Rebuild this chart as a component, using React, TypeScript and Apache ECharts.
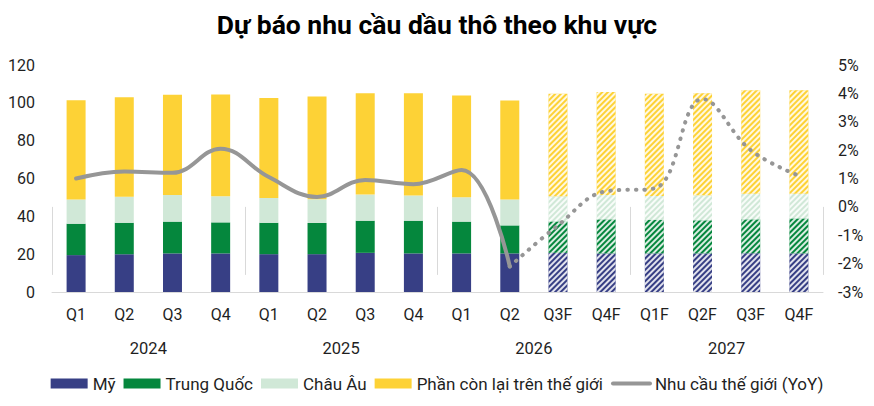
import React, { useEffect, useRef } from "react";
import * as echarts from "echarts";

const quarters = ["Q1", "Q2", "Q3", "Q4", "Q1", "Q2", "Q3", "Q4", "Q1", "Q2", "Q3F", "Q4F", "Q1F", "Q2F", "Q3F", "Q4F"];
const years = ["2024", "2025", "2026", "2027"];
// First index that is a forecast (hatched bars, dotted line)
const forecastStart = 10;

const usa = [19.5, 20.0, 20.4, 20.4, 20.0, 20.0, 20.7, 20.4, 20.4, 20.4, 20.7, 20.4, 20.4, 20.4, 20.5, 20.4];
const china = [16.6, 16.6, 16.8, 16.4, 16.6, 16.5, 17.0, 17.3, 16.8, 14.8, 16.6, 18.0, 17.8, 17.5, 17.9, 18.5];
const europe = [12.8, 13.8, 14.1, 13.8, 13.1, 12.5, 13.8, 13.3, 12.9, 13.7, 13.3, 12.9, 12.6, 13.2, 13.5, 13.0];
const restOfWorld = [52.5, 52.6, 53.0, 53.8, 52.8, 54.4, 53.6, 54.1, 53.8, 52.3, 54.2, 54.4, 54.0, 54.0, 54.8, 54.8];

// World demand growth, % YoY
const yoyActual = [1.0, 1.25, 1.2, 2.05, 1.05, 0.35, 0.95, 0.8, 1.3, -2.1];
const yoyForecast = [-0.65, 0.55, 0.65, 3.8, 2.0, 1.1];

const leftTicks = { min: 0, max: 120, interval: 20 };
const rightTicks = { min: -3, max: 5, interval: 1 };

const COLORS = {
  usa: "#373f85",
  china: "#05873d",
  europe: "#d0e8d7",
  rest: "#fdd236",
  line: "#969696",
};

const FONT = "Roboto, 'Noto Sans', sans-serif";
const TEXT = "#1f1f1f";
const AXIS = "#d9d9d9";

// Forecast bars get diagonal white stripes running top-left to bottom-right
function hatched(values: number[], color: string) {
  return values.map((v, i) =>
    i >= forecastStart
      ? {
          value: v,
          itemStyle: {
            color,
            decal: {
              symbol: "rect",
              symbolSize: 1,
              dashArrayX: [1, 0],
              dashArrayY: [1.5, 1.5],
              rotation: -Math.PI / 4,
              color: "rgba(255,255,255,0.85)",
            },
          },
        }
      : v
  );
}

export default function App() {
  const ref = useRef<HTMLDivElement>(null);

  useEffect(() => {
    document.body.style.margin = "0";
    if (!ref.current) return;
    const chart = echarts.init(ref.current, undefined, { renderer: "svg" });

    const actualLine = quarters.map((_, i) => (i < yoyActual.length ? yoyActual[i] : null));
    const forecastLine = quarters.map((_, i) => {
      if (i === yoyActual.length - 1) return yoyActual[i];
      if (i >= forecastStart) return yoyForecast[i - forecastStart];
      return null;
    });

    const barSeries = (name: string, values: number[], color: string) => ({
      name,
      type: "bar",
      stack: "demand",
      barWidth: 19,
      xAxisIndex: 0,
      yAxisIndex: 0,
      itemStyle: { color },
      data: hatched(values, color),
    });

    chart.setOption({
      animation: false,
      textStyle: { fontFamily: FONT },
      title: {
        text: "Dự báo nhu cầu dầu thô theo khu vực",
        left: "center",
        top: 6,
        textStyle: { fontFamily: FONT, fontSize: 26.5, fontWeight: "bold", color: "#000" },
      },
      grid: { left: 52, right: 51, top: 65, bottom: 114, containLabel: false },
      legend: {
        bottom: 9,
        left: "center",
        itemWidth: 37,
        itemHeight: 10,
        itemGap: 8,
        textStyle: { fontFamily: FONT, fontSize: 17, color: TEXT },
        data: [
          { name: "Mỹ", icon: "rect" },
          { name: "Trung Quốc", icon: "rect" },
          { name: "Châu Âu", icon: "rect" },
          { name: "Phần còn lại trên thế giới", icon: "rect" },
          {
            name: "Nhu cầu thế giới (YoY)",
            itemStyle: { opacity: 0 },
            lineStyle: { width: 4, color: COLORS.line, cap: "round" },
          },
        ],
      },
      xAxis: [
        {
          type: "category",
          data: quarters,
          position: "bottom",
          axisLine: { show: true, lineStyle: { color: AXIS, width: 1 } },
          axisTick: { show: false },
          axisLabel: { interval: 0, margin: 14, fontSize: 16, color: TEXT, fontFamily: FONT },
        },
        {
          type: "category",
          data: years,
          position: "bottom",
          offset: 0,
          axisLine: { show: false },
          axisTick: { show: true, length: 68, lineStyle: { color: AXIS, width: 1 } },
          axisLabel: { margin: 48, fontSize: 16.5, color: TEXT, fontFamily: FONT },
        },
      ],
      yAxis: [
        {
          type: "value",
          ...leftTicks,
          axisLine: { show: false },
          axisTick: { show: false },
          splitLine: { show: false },
          axisLabel: { margin: 17, fontSize: 16, color: TEXT, fontFamily: FONT },
        },
        {
          type: "value",
          position: "right",
          ...rightTicks,
          axisLine: { show: false },
          axisTick: { show: false },
          splitLine: { show: false },
          axisLabel: { margin: 15, fontSize: 16, color: TEXT, fontFamily: FONT, formatter: "{value}%" },
        },
      ],
      series: [
        barSeries("Mỹ", usa, COLORS.usa),
        barSeries("Trung Quốc", china, COLORS.china),
        barSeries("Châu Âu", europe, COLORS.europe),
        barSeries("Phần còn lại trên thế giới", restOfWorld, COLORS.rest),
        {
          name: "Nhu cầu thế giới (YoY)",
          type: "line",
          xAxisIndex: 0,
          yAxisIndex: 1,
          data: actualLine,
          smooth: 0.4,
          symbol: "none",
          connectNulls: false,
          itemStyle: { color: COLORS.line },
          lineStyle: { color: COLORS.line, width: 4, cap: "round" },
          z: 5,
        },
        {
          name: "Dự báo",
          type: "line",
          xAxisIndex: 0,
          yAxisIndex: 1,
          data: forecastLine,
          smooth: 0.4,
          symbol: "none",
          connectNulls: false,
          itemStyle: { color: COLORS.line },
          lineStyle: { color: COLORS.line, width: 4, type: [0.5, 8], cap: "round" },
          z: 5,
        },
      ],
    });

    return () => chart.dispose();
  }, []);

  return <div ref={ref} style={{ width: 874, height: 406 }} />;
}
